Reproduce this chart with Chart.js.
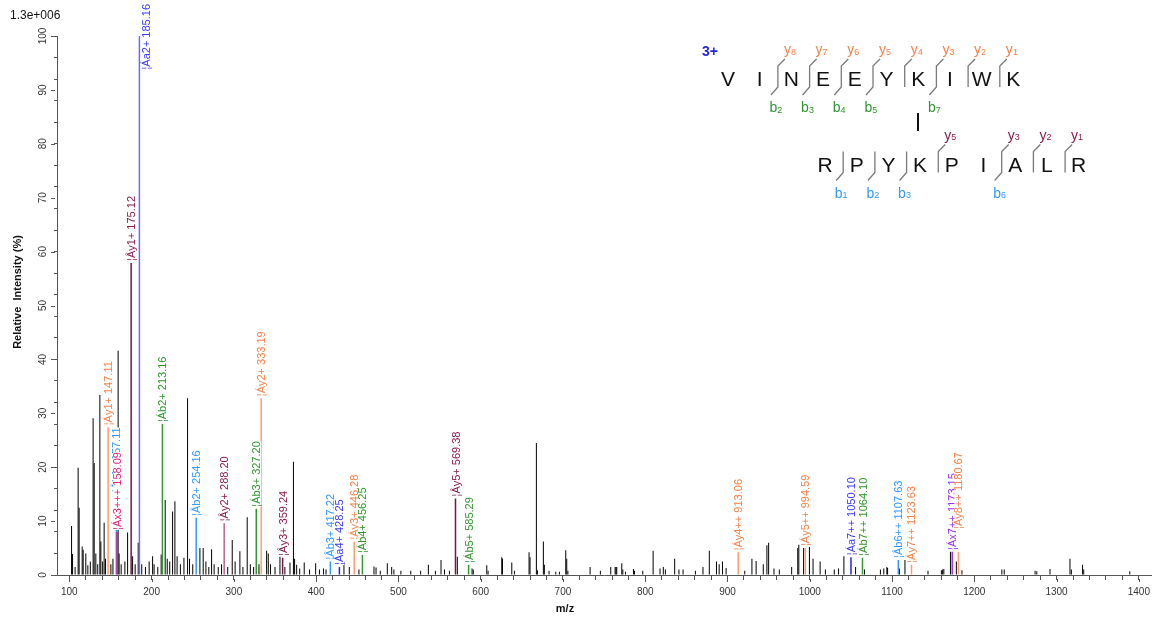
<!DOCTYPE html>
<html>
<head>
<meta charset="utf-8">
<script src="https://cdn.jsdelivr.net/npm/chart.js@4.4.1/dist/chart.umd.min.js"></script>
<style>
  html, body { margin: 0; padding: 0; background: #fff; }
  #wrap { width: 1156px; height: 619px; position: relative; }
</style>
</head>
<body>
<div id="wrap"><canvas id="spectrum"></canvas></div>
<script>
/* ==================== DATA ==================== */

// unannotated peaks (m/z, relative intensity %)
const peakMz = [
  102.7, 103.9, 107.0, 110.7, 111.9, 115.6, 116.8, 120.0, 122.5, 125.5, 128.9, 130.2, 132.2, 134.5,
  137.1, 138.3, 140.5, 142.3, 144.0, 150.5, 153.0, 159.3, 160.5, 163.0, 167.5, 170.8, 176.9, 180.0,
  183.7, 188.0, 192.5, 197.0, 201.2, 203.0, 207.5, 211.6, 216.5, 219.0, 222.0, 225.5, 228.3, 231.0,
  235.0, 239.3, 243.7, 246.1, 250.0, 258.7, 262.7, 266.0, 269.5, 272.9, 276.0, 281.0, 285.0, 292.5,
  298.0, 301.5, 307.3, 311.0, 316.2, 320.0, 324.0, 330.5, 339.8, 341.8, 344.5, 350.0, 356.0, 362.0,
  368.2, 372.4, 373.8, 376.3, 380.0, 385.5, 392.0, 399.4, 404.0, 409.0, 412.0, 433.8, 440.3, 452.0,
  470.3, 472.8, 478.0, 486.5, 491.8, 494.5, 503.0, 515.0, 527.0, 536.4, 545.0, 551.8, 556.0, 562.0,
  571.6, 589.5, 591.0, 607.4, 609.0, 625.6, 626.5, 637.8, 641.0, 658.8, 660.0, 667.7, 669.0, 676.2,
  677.4, 683.1, 691.3, 695.7, 703.4, 704.6, 706.0, 733.0, 745.5, 758.1, 763.4, 764.5, 765.4, 771.5,
  772.8, 776.0, 785.7, 787.0, 797.0, 809.6, 818.0, 822.0, 824.5, 835.8, 841.0, 846.0, 861.0, 870.2,
  877.9, 886.6, 889.9, 893.9, 898.3, 921.0, 929.7, 934.8, 943.5, 947.9, 950.0, 956.5, 963.0, 978.0,
  985.4, 986.7, 992.5, 999.6, 1004.0, 1012.6, 1019.0, 1029.8, 1035.0, 1041.5, 1055.7, 1066.5, 1085.9,
  1090.0, 1093.7, 1094.6, 1109.0, 1115.7, 1143.7, 1160.0, 1161.5, 1163.0, 1171.0, 1178.2, 1185.0,
  1233.5, 1236.4, 1273.9, 1276.0, 1292.0, 1316.3, 1318.0, 1331.6, 1333.0, 1389.0
];
const peakInt = [
  9.1, 3.9, 1.5, 19.9, 12.5, 5.3, 4.7, 4.0, 1.8, 2.5, 29.1, 20.8, 4.0, 2.0,
  33.4, 6.2, 2.5, 9.7, 3.0, 2.0, 3.0, 41.6, 4.0, 2.0, 2.5, 7.9, 3.5, 2.0,
  6.0, 2.0, 1.5, 2.5, 3.5, 2.0, 1.5, 3.8, 13.9, 3.0, 2.5, 11.8, 13.7, 3.5,
  2.0, 3.2, 32.8, 3.0, 2.0, 5.0, 5.0, 2.5, 1.5, 4.8, 2.0, 1.5, 2.0, 1.5,
  6.5, 2.5, 4.4, 1.5, 10.7, 2.0, 1.5, 2.0, 4.5, 4.0, 2.0, 1.5, 3.4, 1.5,
  2.3, 21.0, 3.0, 1.9, 1.2, 2.3, 1.0, 2.2, 1.0, 1.2, 1.0, 2.5, 1.5, 1.0,
  1.6, 1.4, 0.8, 2.2, 1.5, 1.0, 0.8, 0.8, 0.8, 1.9, 0.8, 2.8, 1.0, 0.8,
  3.4, 1.2, 1.0, 1.8, 0.8, 3.3, 3.0, 2.3, 0.8, 4.2, 3.3, 24.5, 0.9, 6.2,
  1.9, 0.8, 0.6, 0.6, 4.6, 3.0, 0.8, 1.5, 0.8, 1.5, 1.5, 1.5, 1.5, 2.2,
  1.0, 0.6, 1.1, 0.8, 0.8, 4.5, 1.2, 1.5, 1.0, 3.0, 1.0, 1.0, 0.8, 1.5,
  4.5, 2.5, 2.0, 2.5, 1.3, 0.8, 3.0, 2.6, 2.0, 5.5, 6.0, 1.2, 1.0, 1.5,
  5.0, 5.6, 5.0, 5.2, 3.0, 2.5, 1.0, 1.0, 1.2, 3.5, 1.5, 1.0, 1.0,
  1.2, 1.5, 1.3, 1.2, 2.8, 0.8, 0.9, 1.0, 1.1, 4.3, 2.5, 0.9,
  1.0, 1.0, 0.8, 0.7, 1.1, 3.0, 1.0, 1.9, 1.0, 0.7
];

// annotated fragment ions
const ionMz = [147.11, 157.11, 158.09, 175.12, 185.16, 213.16, 254.16, 288.20, 327.20, 333.19,
  359.24, 417.22, 428.25, 446.28, 456.25, 569.38, 585.29, 913.06, 994.59, 1050.10,
  1064.10, 1107.63, 1123.63, 1173.15, 1180.67];
const ionInt = [27.4, 15.0, 8.0, 57.9, 100, 28.0, 10.6, 9.6, 12.3, 32.8,
  3.2, 2.5, 1.5, 6.2, 3.7, 14.2, 1.9, 4.2, 5.0, 3.3,
  3.2, 2.8, 1.9, 4.3, 4.3];
const ionLabel = ['¦Áy1+ 147.11', '¦Âb1+ 157.11', '¦Áx3+++ 158.09', '¦Ây1+ 175.12', '¦Áa2+ 185.16',
  '¦Áb2+ 213.16', '¦Âb2+ 254.16', '¦Ây2+ 288.20', '¦Áb3+ 327.20', '¦Áy2+ 333.19',
  '¦Ây3+ 359.24', '¦Âb3+ 417.22', '¦Áa4+ 428.25', '¦Áy3+ 446.28', '¦Áb4+ 456.25',
  '¦Ây5+ 569.38', '¦Áb5+ 585.29', '¦Áy4++ 913.06', '¦Áy5++ 994.59', '¦Áa7++ 1050.10',
  '¦Áb7++ 1064.10', '¦Âb6++ 1107.63', '¦Áy7++ 1123.63', '¦Áx7++ 1173.15', '¦Áy8++ 1180.67'];
const ionKind = ['ay', 'bb', 'x3', 'by', 'aa', 'ab', 'bb', 'by2', 'ab', 'ay',
  'by', 'bb', 'aa2', 'ay', 'ab', 'by', 'ab', 'ay', 'ay', 'aa2',
  'ab', 'bb', 'ay', 'x7', 'ay'];

const xTickLabels = [100, 200, 300, 400, 500, 600, 700, 800, 900, 1000, 1100, 1200, 1300, 1400];
const yTickLabels = [0, 10, 20, 30, 40, 50, 60, 70, 80, 90, 100];

const alphaSeq = ['V', 'I', 'N', 'E', 'E', 'Y', 'K', 'I', 'W', 'K'];
const betaSeq = ['R', 'P', 'Y', 'K', 'P', 'I', 'A', 'L', 'R'];
const alphaY = [8, 7, 6, 5, 4, 3, 2, 1];
const alphaB = [2, 3, 4, 5, 7];
const betaY = [5, 3, 2, 1];
const betaB = [1, 2, 3, 6];
const linkSite = 7;
const precursorCharge = '3+';
const maxIntensityText = '1.3e+006';

/* ==================== STYLES ==================== */

const FONT = '"Liberation Sans", Arial, sans-serif';
const ionStyle = {
  ay:  { line: '#ff9c70', text: '#f4834a' },
  ab:  { line: '#2f9a2f', text: '#2f962f' },
  by:  { line: '#7a1444', text: '#8a1c4e' },
  by2: { line: '#b3668c', text: '#8a1c4e' },
  bb:  { line: '#3399ff', text: '#3399ff' },
  aa:  { line: '#6b6bff', text: '#3b3bf0' },
  aa2: { line: '#2525e0', text: '#3b3bf0' },
  x3:  { line: '#e0206e', text: '#e8207a' },
  x7:  { line: '#9b30f0', text: '#9b30f0' }
};

/* ==================== PLUGINS ==================== */

const ionLabelsPlugin = {
  id: 'ionLabels',
  afterDatasetsDraw(chart) {
    const { ctx, scales: { x, y } } = chart;
    const placed = [];
    ctx.save();
    ctx.font = '11px ' + FONT;
    ionMz.forEach((m, i) => {
      const px = x.getPixelForValue(m) + 0.5;
      const top = y.getPixelForValue(ionInt[i]);
      const w = ctx.measureText(ionLabel[i]).width;
      let cx = px, base = top - 2;
      if (base - w < 4) { cx = px + 7; base = 4 + w; }
      // nudge a label up when it would sit right on top of its neighbour
      placed.forEach(p => {
        if (Math.abs(p.cx - cx) < 7 && Math.abs(p.base - base) < 10) base = p.base - 21;
      });
      placed.push({ cx, base });
      ctx.save();
      ctx.translate(cx, base);
      ctx.rotate(-Math.PI / 2);
      ctx.fillStyle = '#fff';
      ctx.fillRect(0, -4.5, w, 9);
      ctx.fillStyle = ionStyle[ionKind[i]].text;
      ctx.textAlign = 'left';
      ctx.textBaseline = 'middle';
      ctx.fillText(ionLabel[i], 0, 0.5);
      ctx.restore();
    });
    ctx.restore();
  }
};

function ionTag(ctx, letter, num, x, base, color) {
  ctx.fillStyle = color;
  ctx.textAlign = 'left';
  ctx.textBaseline = 'alphabetic';
  ctx.font = '14px ' + FONT;
  ctx.fillText(letter, x, base);
  const w = ctx.measureText(letter).width;
  ctx.font = '9px ' + FONT;
  ctx.fillText(String(num), x + w, base + 0.5);
}

function drawChain(ctx, seq, x0, base, yIons, bIons, yColor, bColor) {
  const step = 31.7;
  const n = seq.length;
  ctx.font = '21px ' + FONT;
  ctx.fillStyle = '#111';
  ctx.textAlign = 'center';
  ctx.textBaseline = 'alphabetic';
  seq.forEach((r, i) => ctx.fillText(r, x0 + i * step, base));

  for (let site = 1; site < n; site++) {
    const hasY = yIons.includes(n - site);
    const hasB = bIons.includes(site);
    if (!hasY && !hasB) continue;
    const vx = x0 + site * step - 13.5;
    ctx.strokeStyle = '#7a7a7a';
    ctx.lineWidth = 1.3;
    ctx.beginPath();
    if (hasB) { ctx.moveTo(vx - 7, base + 9); ctx.lineTo(vx, base + 1); }
    else ctx.moveTo(vx, base + 1);
    ctx.lineTo(vx, base - 20);
    if (hasY) ctx.lineTo(vx + 7, base - 27);
    ctx.stroke();
    if (hasY) ionTag(ctx, 'y', n - site, vx + 6, base - 32, yColor);
    if (hasB) ionTag(ctx, 'b', site, vx - 8.5, base + 26, bColor);
  }
}

const decorPlugin = {
  id: 'decor',
  afterDraw(chart) {
    const { ctx, scales: { x, y }, chartArea } = chart;
    ctx.save();

    // longer major ticks
    ctx.strokeStyle = '#555';
    ctx.lineWidth = 1;
    xTickLabels.forEach(v => {
      const px = Math.round(x.getPixelForValue(v)) + 0.5;
      ctx.beginPath();
      ctx.moveTo(px, chartArea.bottom + 4);
      ctx.lineTo(px, chartArea.bottom + 7);
      ctx.stroke();
    });
    yTickLabels.forEach(v => {
      const py = Math.round(y.getPixelForValue(v)) + 0.5;
      ctx.beginPath();
      ctx.moveTo(chartArea.left - 2, py);
      ctx.lineTo(chartArea.left - 6, py);
      ctx.stroke();
    });

    // rotated y tick labels
    ctx.fillStyle = '#333';
    ctx.font = '10px ' + FONT;
    ctx.textAlign = 'center';
    ctx.textBaseline = 'middle';
    yTickLabels.forEach(v => {
      ctx.save();
      ctx.translate(chartArea.left - 14, y.getPixelForValue(v));
      ctx.rotate(-Math.PI / 2);
      ctx.fillText(String(v), 0, 0);
      ctx.restore();
    });

    // axis titles
    ctx.fillStyle = '#111';
    ctx.font = 'bold 11px ' + FONT;
    ctx.save();
    ctx.translate(18, 292);
    ctx.rotate(-Math.PI / 2);
    ctx.fillText('Relative  Intensity (%)', 0, 0);
    ctx.restore();
    ctx.fillText('m/z', 565, 609);

    ctx.font = '12px ' + FONT;
    ctx.textAlign = 'left';
    ctx.fillText(maxIntensityText, 10, 16);

    // peptide diagram
    ctx.font = 'bold 14px ' + FONT;
    ctx.fillStyle = '#1f1fee';
    ctx.textBaseline = 'alphabetic';
    ctx.fillText(precursorCharge, 702, 56);

    drawChain(ctx, alphaSeq, 728, 86, alphaY, alphaB, '#f4834a', '#2f962f');
    drawChain(ctx, betaSeq, 825, 171.5, betaY, betaB, '#8a1c4e', '#3399ff');

    const lx = Math.round(728 + (linkSite - 1) * 31.7);
    ctx.strokeStyle = '#111';
    ctx.lineWidth = 2;
    ctx.beginPath();
    ctx.moveTo(lx, 113);
    ctx.lineTo(lx, 131);
    ctx.stroke();

    ctx.restore();
  }
};

/* ==================== CHART ==================== */

const minorX = [];
for (let v = 100; v <= 1400; v += 20) minorX.push(v);
const minorY = [];
for (let v = 0; v <= 100; v += 2) minorY.push(v);

new Chart(document.getElementById('spectrum'), {
  type: 'bar',
  data: {
    datasets: [
      {
        label: 'ions',
        order: 0,
        data: ionMz.map((m, i) => ({ x: m, y: ionInt[i] })),
        backgroundColor: ionKind.map(k => ionStyle[k].line),
        barThickness: 1.5
      },
      {
        label: 'peaks',
        order: 1,
        data: peakMz.map((m, i) => ({ x: m, y: peakInt[i] })),
        backgroundColor: '#000',
        barThickness: 1
      }
    ]
  },
  options: {
    responsive: true,
    maintainAspectRatio: false,
    animation: false,
    events: [],
    datasets: { bar: { grouped: false, borderWidth: 0, inflateAmount: 0 } },
    layout: { padding: { top: 36, right: 4, left: 0, bottom: 0 } },
    plugins: { legend: { display: false }, tooltip: { enabled: false } },
    scales: {
      x: {
        type: 'linear',
        min: 85,
        max: 1415,
        offset: false,
        afterFit: s => { s.height = 44; },
        afterBuildTicks: s => { s.ticks = minorX.map(v => ({ value: v })); },
        grid: { drawOnChartArea: false, drawTicks: true, tickLength: 5, color: '#555', offset: false },
        border: { color: '#555', width: 1 },
        ticks: {
          autoSkip: false,
          maxRotation: 0,
          padding: 6,
          color: '#333',
          font: { family: FONT, size: 10 },
          callback: v => (v % 100 === 0 ? String(v) : '')
        }
      },
      y: {
        min: 0,
        max: 100,
        afterFit: s => { s.width = 57; },
        afterBuildTicks: s => { s.ticks = minorY.map(v => ({ value: v })); },
        grid: { drawOnChartArea: false, drawTicks: true, tickLength: 3, color: '#555' },
        border: { color: '#555', width: 1 },
        ticks: { callback: () => '' }
      }
    }
  },
  plugins: [ionLabelsPlugin, decorPlugin]
});
</script>
</body>
</html>
